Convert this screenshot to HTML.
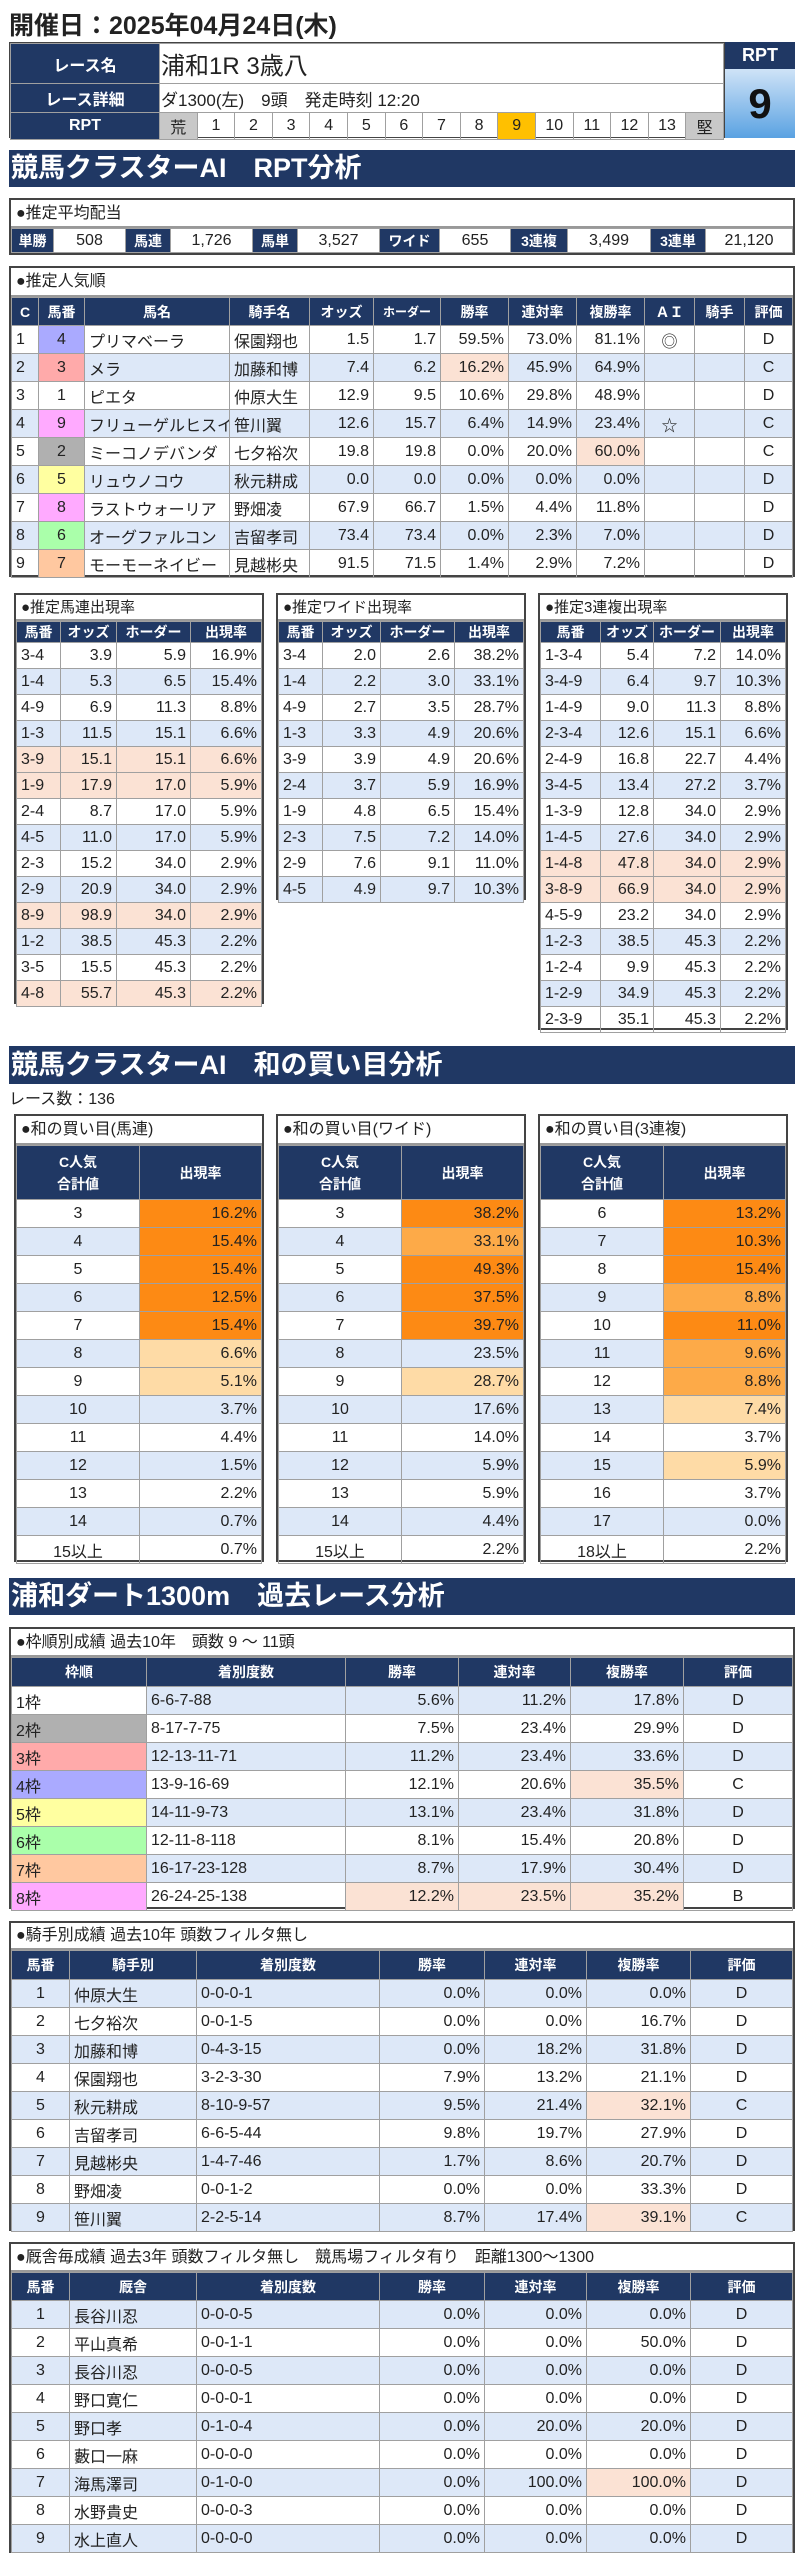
<!DOCTYPE html>
<html><head><meta charset="utf-8">
<style>
*{margin:0;padding:0;box-sizing:border-box}
body{width:801px;height:2560px;background:#fff;position:relative;font-family:"Liberation Sans","Noto Sans CJK JP",sans-serif;color:#222;overflow:hidden}
.abs{position:absolute}
.box{position:absolute;border:2px solid #444;background:#fff}
.ttl{border-bottom:2px solid #999;font-size:16px;padding-left:5px;white-space:nowrap}
table{border-collapse:collapse;table-layout:fixed;width:100%}
td{border:1px solid #a0a0a0;padding:0 4px;white-space:nowrap;overflow:hidden;font-size:16px}
th{background:#203864;color:#fff;font-weight:bold;border:1px solid #a0a0a0;font-size:14px;white-space:nowrap;overflow:hidden}
.b{background:#dde8f8}.s{background:#fbe2d4}
.r{text-align:right}.c{text-align:center}
.bar{position:absolute;left:9px;width:786px;background:#203864;color:#fff;font-weight:bold;font-size:27px;padding-left:2px;white-space:nowrap}
.o1{background:#fd8a14}.o2{background:#fdaa48}.o3{background:#fedba6}
</style></head><body>

<div class="abs" style="left:9px;top:6px;font-size:25px;font-weight:bold;">開催日：2025年04月24日(木)</div>

<!-- race table -->
<div class="abs" style="left:9px;top:42px;width:716px;height:96px;border:1px solid #444;">
<table style="height:94px">
<colgroup><col style="width:149px"><col span="15"></colgroup>
<tr style="height:40px"><th style="font-size:16px">レース名</th><td colspan="15" style="font-size:24px;padding-left:1px">浦和1R 3歳八</td></tr>
<tr style="height:29px"><th style="font-size:16px">レース詳細</th><td colspan="15" style="font-size:17px;padding-left:1px">ダ1300(左)　9頭　発走時刻 12:20</td></tr>
<tr style="height:27px"><th style="font-size:16px">RPT</th>
<td class="c" style="background:#c8c8c8;padding:0">荒</td><td class="c" style="padding:0">1</td><td class="c" style="padding:0">2</td><td class="c" style="padding:0">3</td><td class="c" style="padding:0">4</td><td class="c" style="padding:0">5</td><td class="c" style="padding:0">6</td><td class="c" style="padding:0">7</td><td class="c" style="padding:0">8</td><td class="c" style="background:#ffc000;padding:0">9</td><td class="c" style="padding:0">10</td><td class="c" style="padding:0">11</td><td class="c" style="padding:0">12</td><td class="c" style="padding:0">13</td><td class="c" style="background:#c8c8c8;padding:0">堅</td></tr>
</table></div>
<div class="abs" style="left:725px;top:42px;width:70px;height:27px;background:#203864;color:#fff;font-weight:bold;font-size:18px;text-align:center;line-height:27px">RPT</div>
<div class="abs" style="left:725px;top:69px;width:70px;height:69px;background:linear-gradient(#cfe3f7,#5aa2e2);font-weight:bold;font-size:42px;text-align:center;line-height:69px;color:#111">9</div>

<div class="bar" style="top:150px;height:37px;line-height:37px">競馬クラスターAI　RPT分析</div>

<!-- pay -->
<div class="box" style="left:9px;top:198px;width:786px;height:57px">
<div class="ttl" style="height:28px;line-height:27px">●推定平均配当</div>
<table style="height:25px"><colgroup><col style="width:42px"><col style="width:72px"><col style="width:45px"><col style="width:82px"><col style="width:45px"><col style="width:82px"><col style="width:60px"><col style="width:71px"><col style="width:57px"><col style="width:83px"><col style="width:55px"><col></colgroup>
<tr><th>単勝</th><td class="c">508</td><th>馬連</th><td class="c">1,726</td><th>馬単</th><td class="c">3,527</td><th>ワイド</th><td class="c">655</td><th>3連複</th><td class="c">3,499</td><th>3連単</th><td class="c">21,120</td></tr></table>
</div>

<!-- popularity -->
<div class="box" style="left:9px;top:266px;width:786px;height:311px">
<div class="ttl" style="height:29px;line-height:28px">●推定人気順</div>
<table><colgroup><col style="width:27px"><col style="width:46px"><col style="width:145px"><col style="width:80px"><col style="width:64px"><col style="width:67px"><col style="width:68px"><col style="width:68px"><col style="width:68px"><col style="width:50px"><col style="width:50px"><col></colgroup>
<tr style="height:28px"><th>C</th><th>馬番</th><th>馬名</th><th>騎手名</th><th>オッズ</th><th style="font-size:12px">ホーダー</th><th>勝率</th><th>連対率</th><th>複勝率</th><th>ＡＩ</th><th>騎手</th><th>評価</th></tr>
<tr style="height:28px"><td>1</td><td class="c" style="background:#aaaaff">4</td><td>プリマベーラ</td><td>保園翔也</td><td class="r">1.5</td><td class="r">1.7</td><td class="r">59.5%</td><td class="r">73.0%</td><td class="r">81.1%</td><td class="c">◎</td><td></td><td class="c">D</td></tr>
<tr style="height:28px" class="b"><td>2</td><td class="c" style="background:#ffaaaa">3</td><td>メラ</td><td>加藤和博</td><td class="r">7.4</td><td class="r">6.2</td><td class="r s">16.2%</td><td class="r">45.9%</td><td class="r">64.9%</td><td></td><td></td><td class="c">C</td></tr>
<tr style="height:28px"><td>3</td><td class="c" style="background:#fff">1</td><td>ピエタ</td><td>仲原大生</td><td class="r">12.9</td><td class="r">9.5</td><td class="r">10.6%</td><td class="r">29.8%</td><td class="r">48.9%</td><td></td><td></td><td class="c">D</td></tr>
<tr style="height:28px" class="b"><td>4</td><td class="c" style="background:#ffaaff">9</td><td>フリューゲルヒスイ</td><td>笹川翼</td><td class="r">12.6</td><td class="r">15.7</td><td class="r">6.4%</td><td class="r">14.9%</td><td class="r">23.4%</td><td class="c">☆</td><td></td><td class="c">C</td></tr>
<tr style="height:28px"><td>5</td><td class="c" style="background:#b0b0b0">2</td><td>ミーコノデバンダ</td><td>七夕裕次</td><td class="r">19.8</td><td class="r">19.8</td><td class="r">0.0%</td><td class="r">20.0%</td><td class="r s">60.0%</td><td></td><td></td><td class="c">C</td></tr>
<tr style="height:28px" class="b"><td>6</td><td class="c" style="background:#ffffa0">5</td><td>リュウノコウ</td><td>秋元耕成</td><td class="r">0.0</td><td class="r">0.0</td><td class="r">0.0%</td><td class="r">0.0%</td><td class="r">0.0%</td><td></td><td></td><td class="c">D</td></tr>
<tr style="height:28px"><td>7</td><td class="c" style="background:#ffaaff">8</td><td>ラストウォーリア</td><td>野畑凌</td><td class="r">67.9</td><td class="r">66.7</td><td class="r">1.5%</td><td class="r">4.4%</td><td class="r">11.8%</td><td></td><td></td><td class="c">D</td></tr>
<tr style="height:28px" class="b"><td>8</td><td class="c" style="background:#aaffaa">6</td><td>オーグファルコン</td><td>吉留孝司</td><td class="r">73.4</td><td class="r">73.4</td><td class="r">0.0%</td><td class="r">2.3%</td><td class="r">7.0%</td><td></td><td></td><td class="c">D</td></tr>
<tr style="height:28px"><td>9</td><td class="c" style="background:#ffc8a0">7</td><td>モーモーネイビー</td><td>見越彬央</td><td class="r">91.5</td><td class="r">71.5</td><td class="r">1.4%</td><td class="r">2.9%</td><td class="r">7.2%</td><td></td><td></td><td class="c">D</td></tr>
</table></div>

<!-- 馬連 -->
<div class="box" style="left:14px;top:593px;width:250px;height:411px">
<div class="ttl" style="height:26px;line-height:25px;font-size:15px">●推定馬連出現率</div>
<table><colgroup><col style="width:44px"><col style="width:56px"><col style="width:74px"><col></colgroup>
<tr style="height:21px"><th>馬番</th><th>オッズ</th><th>ホーダー</th><th>出現率</th></tr>
<tr style="height:26px"><td>3-4</td><td class="r">3.9</td><td class="r">5.9</td><td class="r">16.9%</td></tr>
<tr style="height:26px" class="b"><td>1-4</td><td class="r">5.3</td><td class="r">6.5</td><td class="r">15.4%</td></tr>
<tr style="height:26px"><td>4-9</td><td class="r">6.9</td><td class="r">11.3</td><td class="r">8.8%</td></tr>
<tr style="height:26px" class="b"><td>1-3</td><td class="r">11.5</td><td class="r">15.1</td><td class="r">6.6%</td></tr>
<tr style="height:26px" class="s"><td>3-9</td><td class="r">15.1</td><td class="r">15.1</td><td class="r">6.6%</td></tr>
<tr style="height:26px" class="s"><td>1-9</td><td class="r">17.9</td><td class="r">17.0</td><td class="r">5.9%</td></tr>
<tr style="height:26px"><td>2-4</td><td class="r">8.7</td><td class="r">17.0</td><td class="r">5.9%</td></tr>
<tr style="height:26px" class="b"><td>4-5</td><td class="r">11.0</td><td class="r">17.0</td><td class="r">5.9%</td></tr>
<tr style="height:26px"><td>2-3</td><td class="r">15.2</td><td class="r">34.0</td><td class="r">2.9%</td></tr>
<tr style="height:26px" class="b"><td>2-9</td><td class="r">20.9</td><td class="r">34.0</td><td class="r">2.9%</td></tr>
<tr style="height:26px" class="s"><td>8-9</td><td class="r">98.9</td><td class="r">34.0</td><td class="r">2.9%</td></tr>
<tr style="height:26px" class="b"><td>1-2</td><td class="r">38.5</td><td class="r">45.3</td><td class="r">2.2%</td></tr>
<tr style="height:26px"><td>3-5</td><td class="r">15.5</td><td class="r">45.3</td><td class="r">2.2%</td></tr>
<tr style="height:26px" class="s"><td>4-8</td><td class="r">55.7</td><td class="r">45.3</td><td class="r">2.2%</td></tr>
</table></div>

<!-- ワイド -->
<div class="box" style="left:276px;top:593px;width:250px;height:307px">
<div class="ttl" style="height:26px;line-height:25px;font-size:15px">●推定ワイド出現率</div>
<table><colgroup><col style="width:44px"><col style="width:58px"><col style="width:74px"><col></colgroup>
<tr style="height:21px"><th>馬番</th><th>オッズ</th><th>ホーダー</th><th>出現率</th></tr>
<tr style="height:26px"><td>3-4</td><td class="r">2.0</td><td class="r">2.6</td><td class="r">38.2%</td></tr>
<tr style="height:26px" class="b"><td>1-4</td><td class="r">2.2</td><td class="r">3.0</td><td class="r">33.1%</td></tr>
<tr style="height:26px"><td>4-9</td><td class="r">2.7</td><td class="r">3.5</td><td class="r">28.7%</td></tr>
<tr style="height:26px" class="b"><td>1-3</td><td class="r">3.3</td><td class="r">4.9</td><td class="r">20.6%</td></tr>
<tr style="height:26px"><td>3-9</td><td class="r">3.9</td><td class="r">4.9</td><td class="r">20.6%</td></tr>
<tr style="height:26px" class="b"><td>2-4</td><td class="r">3.7</td><td class="r">5.9</td><td class="r">16.9%</td></tr>
<tr style="height:26px"><td>1-9</td><td class="r">4.8</td><td class="r">6.5</td><td class="r">15.4%</td></tr>
<tr style="height:26px" class="b"><td>2-3</td><td class="r">7.5</td><td class="r">7.2</td><td class="r">14.0%</td></tr>
<tr style="height:26px"><td>2-9</td><td class="r">7.6</td><td class="r">9.1</td><td class="r">11.0%</td></tr>
<tr style="height:26px" class="b"><td>4-5</td><td class="r">4.9</td><td class="r">9.7</td><td class="r">10.3%</td></tr>
</table></div>

<!-- 3連複 -->
<div class="box" style="left:538px;top:593px;width:250px;height:437px">
<div class="ttl" style="height:26px;line-height:25px;font-size:15px">●推定3連複出現率</div>
<table><colgroup><col style="width:60px"><col style="width:53px"><col style="width:67px"><col></colgroup>
<tr style="height:21px"><th>馬番</th><th>オッズ</th><th>ホーダー</th><th>出現率</th></tr>
<tr style="height:26px"><td>1-3-4</td><td class="r">5.4</td><td class="r">7.2</td><td class="r">14.0%</td></tr>
<tr style="height:26px" class="b"><td>3-4-9</td><td class="r">6.4</td><td class="r">9.7</td><td class="r">10.3%</td></tr>
<tr style="height:26px"><td>1-4-9</td><td class="r">9.0</td><td class="r">11.3</td><td class="r">8.8%</td></tr>
<tr style="height:26px" class="b"><td>2-3-4</td><td class="r">12.6</td><td class="r">15.1</td><td class="r">6.6%</td></tr>
<tr style="height:26px"><td>2-4-9</td><td class="r">16.8</td><td class="r">22.7</td><td class="r">4.4%</td></tr>
<tr style="height:26px" class="b"><td>3-4-5</td><td class="r">13.4</td><td class="r">27.2</td><td class="r">3.7%</td></tr>
<tr style="height:26px"><td>1-3-9</td><td class="r">12.8</td><td class="r">34.0</td><td class="r">2.9%</td></tr>
<tr style="height:26px" class="b"><td>1-4-5</td><td class="r">27.6</td><td class="r">34.0</td><td class="r">2.9%</td></tr>
<tr style="height:26px" class="s"><td>1-4-8</td><td class="r">47.8</td><td class="r">34.0</td><td class="r">2.9%</td></tr>
<tr style="height:26px" class="s"><td>3-8-9</td><td class="r">66.9</td><td class="r">34.0</td><td class="r">2.9%</td></tr>
<tr style="height:26px"><td>4-5-9</td><td class="r">23.2</td><td class="r">34.0</td><td class="r">2.9%</td></tr>
<tr style="height:26px" class="b"><td>1-2-3</td><td class="r">38.5</td><td class="r">45.3</td><td class="r">2.2%</td></tr>
<tr style="height:26px"><td>1-2-4</td><td class="r">9.9</td><td class="r">45.3</td><td class="r">2.2%</td></tr>
<tr style="height:26px" class="b"><td>1-2-9</td><td class="r">34.9</td><td class="r">45.3</td><td class="r">2.2%</td></tr>
<tr style="height:26px"><td>2-3-9</td><td class="r">35.1</td><td class="r">45.3</td><td class="r">2.2%</td></tr>
</table></div>

<div class="bar" style="top:1046px;height:38px;line-height:38px">競馬クラスターAI　和の買い目分析</div>
<div class="abs" style="left:9px;top:1085px;font-size:16px">レース数：136</div>

<!-- 和 馬連 -->
<div class="box" style="left:14px;top:1114px;width:250px;height:448px">
<div class="ttl" style="height:29px;line-height:28px">●和の買い目(馬連)</div>
<table><colgroup><col style="width:123px"><col></colgroup>
<tr style="height:54px"><th style="line-height:22px">C人気<br>合計値</th><th>出現率</th></tr>
<tr style="height:28px"><td class="c">3</td><td class="r o1">16.2%</td></tr>
<tr style="height:28px"><td class="c b">4</td><td class="r o1">15.4%</td></tr>
<tr style="height:28px"><td class="c">5</td><td class="r o1">15.4%</td></tr>
<tr style="height:28px"><td class="c b">6</td><td class="r o1">12.5%</td></tr>
<tr style="height:28px"><td class="c">7</td><td class="r o1">15.4%</td></tr>
<tr style="height:28px"><td class="c b">8</td><td class="r o3">6.6%</td></tr>
<tr style="height:28px"><td class="c">9</td><td class="r o3">5.1%</td></tr>
<tr style="height:28px" class="b"><td class="c">10</td><td class="r">3.7%</td></tr>
<tr style="height:28px"><td class="c">11</td><td class="r">4.4%</td></tr>
<tr style="height:28px" class="b"><td class="c">12</td><td class="r">1.5%</td></tr>
<tr style="height:28px"><td class="c">13</td><td class="r">2.2%</td></tr>
<tr style="height:28px" class="b"><td class="c">14</td><td class="r">0.7%</td></tr>
<tr style="height:28px"><td class="c">15以上</td><td class="r">0.7%</td></tr>
</table></div>

<!-- 和 ワイド -->
<div class="box" style="left:276px;top:1114px;width:250px;height:448px">
<div class="ttl" style="height:29px;line-height:28px">●和の買い目(ワイド)</div>
<table><colgroup><col style="width:123px"><col></colgroup>
<tr style="height:54px"><th style="line-height:22px">C人気<br>合計値</th><th>出現率</th></tr>
<tr style="height:28px"><td class="c">3</td><td class="r o1">38.2%</td></tr>
<tr style="height:28px"><td class="c b">4</td><td class="r o2">33.1%</td></tr>
<tr style="height:28px"><td class="c">5</td><td class="r o1">49.3%</td></tr>
<tr style="height:28px"><td class="c b">6</td><td class="r o1">37.5%</td></tr>
<tr style="height:28px"><td class="c">7</td><td class="r o1">39.7%</td></tr>
<tr style="height:28px" class="b"><td class="c">8</td><td class="r">23.5%</td></tr>
<tr style="height:28px"><td class="c">9</td><td class="r o3">28.7%</td></tr>
<tr style="height:28px" class="b"><td class="c">10</td><td class="r">17.6%</td></tr>
<tr style="height:28px"><td class="c">11</td><td class="r">14.0%</td></tr>
<tr style="height:28px" class="b"><td class="c">12</td><td class="r">5.9%</td></tr>
<tr style="height:28px"><td class="c">13</td><td class="r">5.9%</td></tr>
<tr style="height:28px" class="b"><td class="c">14</td><td class="r">4.4%</td></tr>
<tr style="height:28px"><td class="c">15以上</td><td class="r">2.2%</td></tr>
</table></div>

<!-- 和 3連複 -->
<div class="box" style="left:538px;top:1114px;width:250px;height:448px">
<div class="ttl" style="height:29px;line-height:28px">●和の買い目(3連複)</div>
<table><colgroup><col style="width:123px"><col></colgroup>
<tr style="height:54px"><th style="line-height:22px">C人気<br>合計値</th><th>出現率</th></tr>
<tr style="height:28px"><td class="c">6</td><td class="r o1">13.2%</td></tr>
<tr style="height:28px"><td class="c b">7</td><td class="r o1">10.3%</td></tr>
<tr style="height:28px"><td class="c">8</td><td class="r o1">15.4%</td></tr>
<tr style="height:28px"><td class="c b">9</td><td class="r o2">8.8%</td></tr>
<tr style="height:28px"><td class="c">10</td><td class="r o1">11.0%</td></tr>
<tr style="height:28px"><td class="c b">11</td><td class="r o2">9.6%</td></tr>
<tr style="height:28px"><td class="c">12</td><td class="r o2">8.8%</td></tr>
<tr style="height:28px"><td class="c b">13</td><td class="r o3">7.4%</td></tr>
<tr style="height:28px"><td class="c">14</td><td class="r">3.7%</td></tr>
<tr style="height:28px"><td class="c b">15</td><td class="r o3">5.9%</td></tr>
<tr style="height:28px"><td class="c">16</td><td class="r">3.7%</td></tr>
<tr style="height:28px" class="b"><td class="c">17</td><td class="r">0.0%</td></tr>
<tr style="height:28px"><td class="c">18以上</td><td class="r">2.2%</td></tr>
</table></div>

<div class="bar" style="top:1578px;height:37px;line-height:37px">浦和ダート1300m　過去レース分析</div>

<!-- 枠順 -->
<div class="box" style="left:9px;top:1627px;width:786px;height:282px">
<div class="ttl" style="height:28px;line-height:27px">●枠順別成績 過去10年　頭数 9 ～ 11頭</div>
<table><colgroup><col style="width:135px"><col style="width:199px"><col style="width:113px"><col style="width:112px"><col style="width:113px"><col></colgroup>
<tr style="height:29px"><th>枠順</th><th>着別度数</th><th>勝率</th><th>連対率</th><th>複勝率</th><th>評価</th></tr>
<tr style="height:28px" class="b"><td style="background:#fff">1枠</td><td>6-6-7-88</td><td class="r">5.6%</td><td class="r">11.2%</td><td class="r">17.8%</td><td class="c">D</td></tr>
<tr style="height:28px"><td style="background:#b0b0b0">2枠</td><td>8-17-7-75</td><td class="r">7.5%</td><td class="r">23.4%</td><td class="r">29.9%</td><td class="c">D</td></tr>
<tr style="height:28px" class="b"><td style="background:#ffaaaa">3枠</td><td>12-13-11-71</td><td class="r">11.2%</td><td class="r">23.4%</td><td class="r">33.6%</td><td class="c">D</td></tr>
<tr style="height:28px"><td style="background:#aaaaff">4枠</td><td>13-9-16-69</td><td class="r">12.1%</td><td class="r">20.6%</td><td class="r s">35.5%</td><td class="c">C</td></tr>
<tr style="height:28px" class="b"><td style="background:#ffffa0">5枠</td><td>14-11-9-73</td><td class="r">13.1%</td><td class="r">23.4%</td><td class="r">31.8%</td><td class="c">D</td></tr>
<tr style="height:28px"><td style="background:#aaffaa">6枠</td><td>12-11-8-118</td><td class="r">8.1%</td><td class="r">15.4%</td><td class="r">20.8%</td><td class="c">D</td></tr>
<tr style="height:28px" class="b"><td style="background:#ffc8a0">7枠</td><td>16-17-23-128</td><td class="r">8.7%</td><td class="r">17.9%</td><td class="r">30.4%</td><td class="c">D</td></tr>
<tr style="height:28px"><td style="background:#ffaaff">8枠</td><td>26-24-25-138</td><td class="r s">12.2%</td><td class="r s">23.5%</td><td class="r s">35.2%</td><td class="c">B</td></tr>
</table></div>

<!-- 騎手 -->
<div class="box" style="left:9px;top:1921px;width:786px;height:310px">
<div class="ttl" style="height:27px;line-height:26px">●騎手別成績 過去10年 頭数フィルタ無し</div>
<table><colgroup><col style="width:58px"><col style="width:127px"><col style="width:183px"><col style="width:105px"><col style="width:102px"><col style="width:104px"><col></colgroup>
<tr style="height:29px"><th>馬番</th><th>騎手別</th><th>着別度数</th><th>勝率</th><th>連対率</th><th>複勝率</th><th>評価</th></tr>
<tr style="height:28px" class="b"><td class="c">1</td><td>仲原大生</td><td>0-0-0-1</td><td class="r">0.0%</td><td class="r">0.0%</td><td class="r">0.0%</td><td class="c">D</td></tr>
<tr style="height:28px"><td class="c">2</td><td>七夕裕次</td><td>0-0-1-5</td><td class="r">0.0%</td><td class="r">0.0%</td><td class="r">16.7%</td><td class="c">D</td></tr>
<tr style="height:28px" class="b"><td class="c">3</td><td>加藤和博</td><td>0-4-3-15</td><td class="r">0.0%</td><td class="r">18.2%</td><td class="r">31.8%</td><td class="c">D</td></tr>
<tr style="height:28px"><td class="c">4</td><td>保園翔也</td><td>3-2-3-30</td><td class="r">7.9%</td><td class="r">13.2%</td><td class="r">21.1%</td><td class="c">D</td></tr>
<tr style="height:28px" class="b"><td class="c">5</td><td>秋元耕成</td><td>8-10-9-57</td><td class="r">9.5%</td><td class="r">21.4%</td><td class="r s">32.1%</td><td class="c">C</td></tr>
<tr style="height:28px"><td class="c">6</td><td>吉留孝司</td><td>6-6-5-44</td><td class="r">9.8%</td><td class="r">19.7%</td><td class="r">27.9%</td><td class="c">D</td></tr>
<tr style="height:28px" class="b"><td class="c">7</td><td>見越彬央</td><td>1-4-7-46</td><td class="r">1.7%</td><td class="r">8.6%</td><td class="r">20.7%</td><td class="c">D</td></tr>
<tr style="height:28px"><td class="c">8</td><td>野畑凌</td><td>0-0-1-2</td><td class="r">0.0%</td><td class="r">0.0%</td><td class="r">33.3%</td><td class="c">D</td></tr>
<tr style="height:28px" class="b"><td class="c">9</td><td>笹川翼</td><td>2-2-5-14</td><td class="r">8.7%</td><td class="r">17.4%</td><td class="r s">39.1%</td><td class="c">C</td></tr>
</table></div>

<!-- 厩舎 -->
<div class="box" style="left:9px;top:2242px;width:786px;height:311px">
<div class="ttl" style="height:28px;line-height:27px">●厩舎毎成績 過去3年 頭数フィルタ無し　競馬場フィルタ有り　距離1300～1300</div>
<table><colgroup><col style="width:58px"><col style="width:127px"><col style="width:183px"><col style="width:105px"><col style="width:102px"><col style="width:104px"><col></colgroup>
<tr style="height:28px"><th>馬番</th><th>厩舎</th><th>着別度数</th><th>勝率</th><th>連対率</th><th>複勝率</th><th>評価</th></tr>
<tr style="height:28px" class="b"><td class="c">1</td><td>長谷川忍</td><td>0-0-0-5</td><td class="r">0.0%</td><td class="r">0.0%</td><td class="r">0.0%</td><td class="c">D</td></tr>
<tr style="height:28px"><td class="c">2</td><td>平山真希</td><td>0-0-1-1</td><td class="r">0.0%</td><td class="r">0.0%</td><td class="r">50.0%</td><td class="c">D</td></tr>
<tr style="height:28px" class="b"><td class="c">3</td><td>長谷川忍</td><td>0-0-0-5</td><td class="r">0.0%</td><td class="r">0.0%</td><td class="r">0.0%</td><td class="c">D</td></tr>
<tr style="height:28px"><td class="c">4</td><td>野口寛仁</td><td>0-0-0-1</td><td class="r">0.0%</td><td class="r">0.0%</td><td class="r">0.0%</td><td class="c">D</td></tr>
<tr style="height:28px" class="b"><td class="c">5</td><td>野口孝</td><td>0-1-0-4</td><td class="r">0.0%</td><td class="r">20.0%</td><td class="r">20.0%</td><td class="c">D</td></tr>
<tr style="height:28px"><td class="c">6</td><td>藪口一麻</td><td>0-0-0-0</td><td class="r">0.0%</td><td class="r">0.0%</td><td class="r">0.0%</td><td class="c">D</td></tr>
<tr style="height:28px" class="b"><td class="c">7</td><td>海馬澤司</td><td>0-1-0-0</td><td class="r">0.0%</td><td class="r">100.0%</td><td class="r s">100.0%</td><td class="c">D</td></tr>
<tr style="height:28px"><td class="c">8</td><td>水野貴史</td><td>0-0-0-3</td><td class="r">0.0%</td><td class="r">0.0%</td><td class="r">0.0%</td><td class="c">D</td></tr>
<tr style="height:28px" class="b"><td class="c">9</td><td>水上直人</td><td>0-0-0-0</td><td class="r">0.0%</td><td class="r">0.0%</td><td class="r">0.0%</td><td class="c">D</td></tr>
</table></div>

</body></html>
